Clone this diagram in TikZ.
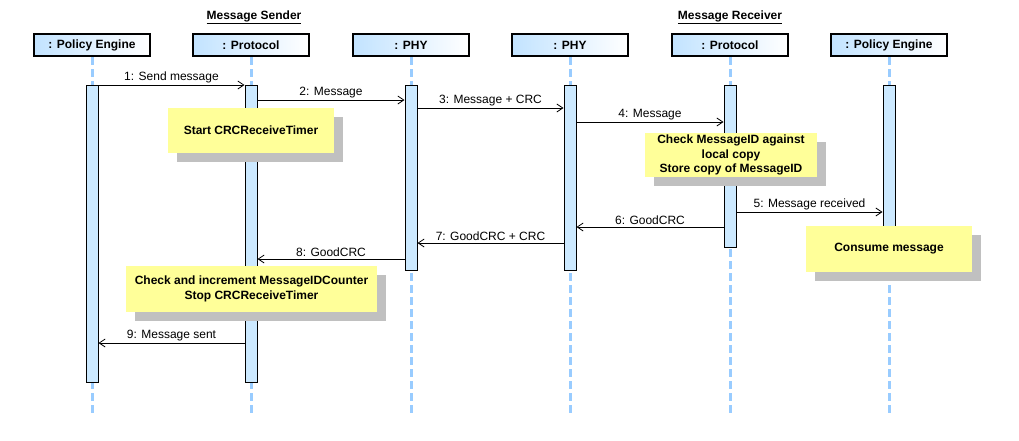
\documentclass[tikz,border=0pt]{standalone}
\usepackage{fontspec}
\setmainfont{Liberation Sans}
\usetikzlibrary{arrows.meta,shadows}

\definecolor{headblue}{HTML}{C2E3FF}
\definecolor{barblue}{HTML}{CCE9FF}
\definecolor{lineblue}{HTML}{99CCFF}
\definecolor{noteyellow}{HTML}{FFFF99}
\definecolor{shadowgray}{HTML}{C0C0C0}

\begin{document}
\begin{tikzpicture}[x=1pt,y=-1pt,font=\fontsize{12}{14.5}\selectfont]

    \useasboundingbox (0,0) rectangle (1019,440);

    \tikzset{
        header/.style={draw,line width=2pt,left color=headblue,right color=white,
            minimum width=116pt,minimum height=22pt,inner sep=0pt,font=\fontsize{12}{14.5}\selectfont\bfseries},
        bar/.style={draw,line width=1pt,fill=barblue,minimum width=12pt,inner sep=0pt,anchor=north},
        lifeline/.style={draw=lineblue,line width=3pt,dash pattern=on 8pt off 4pt},
        note/.style={fill=noteyellow,align=center,minimum height=45pt,inner ysep=1pt,
            font=\fontsize{12}{14.5}\selectfont\bfseries,
            drop shadow={shadow xshift=9pt,shadow yshift=-9pt,fill=shadowgray,opacity=1}},
        msg/.style={line width=0.8pt,-{Straight Barb[length=6pt,width=8pt]}}
    }

    % side titles
    \node[font=\fontsize{12}{14.5}\selectfont\bfseries] (sender)   at (254,17) {\underline{Message Sender}};
    \node[font=\fontsize{12}{14.5}\selectfont\bfseries] (receiver) at (730,17) {\underline{Message Receiver}};

    % lifeline heads
    \begin{scope}[every node/.style={header}]
        \node (pe1)   at (92,45)  {: Policy Engine};
        \node (prot1) at (251,45) {: Protocol};
        \node (phy1)  at (411,45) {: PHY};
        \node (phy2)  at (570,45) {: PHY};
        \node (prot2) at (730,45) {: Protocol};
        \node (pe2)   at (889,45) {: Policy Engine};
    \end{scope}

    % dashed lifelines
    \foreach \n in {pe1,prot1,phy1,phy2,prot2,pe2}
        \draw[lifeline] (\n.south) -- (\n.south |- 0,413);

    % activation bars
    \node[bar,minimum height=297pt] (b1) at (pe1.south |- 0,85)   {};
    \node[bar,minimum height=297pt] (b2) at (prot1.south |- 0,85) {};
    \node[bar,minimum height=185pt] (b3) at (phy1.south |- 0,85)  {};
    \node[bar,minimum height=185pt] (b4) at (phy2.south |- 0,85)  {};
    \node[bar,minimum height=162pt] (b5) at (prot2.south |- 0,85) {};
    \node[bar,minimum height=165pt] (b6) at (pe2.south |- 0,85)   {};

    % messages
    \begin{scope}[every node/.style={above,inner sep=2pt}]
        \path [msg] (b1.east |- 0,85)  edge node {1: Send message}      (b2.west |- 0,85);
        \path [msg] (b2.east |- 0,100) edge node {2: Message}           (b3.west |- 0,100);
        \path [msg] (b3.east |- 0,108) edge node {3: Message + CRC}     (b4.west |- 0,108);
        \path [msg] (b4.east |- 0,122) edge node {4: Message}           (b5.west |- 0,122);
        \path [msg] (b5.east |- 0,212) edge node {5: Message received}  (b6.west |- 0,212);
        \path [msg] (b5.west |- 0,227) edge node {6: GoodCRC}           (b4.east |- 0,227);
        \path [msg] (b4.west |- 0,243) edge node {7: GoodCRC + CRC}     (b3.east |- 0,243);
        \path [msg] (b3.west |- 0,259) edge node {8: GoodCRC}           (b2.east |- 0,259);
        \path [msg] (b2.west |- 0,343) edge node {9: Message sent}      (b1.east |- 0,343);
    \end{scope}

    % notes
    \node[note,minimum width=166pt] (n1) at (251,130.5) {Start CRCReceiveTimer};
    \node[note,minimum width=172pt,minimum height=44pt] (n2) at (731,155) {Check MessageID against\\local copy\\Store copy of MessageID};
    \node[note,minimum width=166pt,minimum height=46pt] (n3) at (889,249) {Consume message};
    \node[note,minimum width=251pt,minimum height=46pt] (n4) at (251.5,289) {Check and increment MessageIDCounter\\Stop CRCReceiveTimer};

\end{tikzpicture}
\end{document}
